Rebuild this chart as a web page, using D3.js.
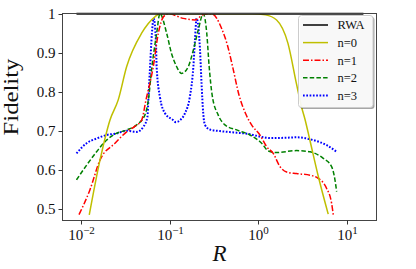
<!DOCTYPE html>
<html>
<head>
<meta charset="utf-8">
<script src="https://cdn.jsdelivr.net/npm/d3@7"></script>
<style>
  body { margin: 0; background: #fff; }
  svg { display: block; }
</style>
</head>
<body>
<div id="chart"></div>
<script>

// values (R on a log axis, fidelity on y)
var rwaR = [0.0089, 15.3];
var rwaF = [1, 1];

var n0R = [0.0124, 0.0164, 0.0212, 0.0263, 0.0327, 0.0483, 0.0682, 0.0776, 0.3, 0.85, 1.2, 1.607, 2.158, 2.692, 3.076, 3.35, 3.819, 4.732, 6.138];
var n0F = [0.484, 0.625, 0.727, 0.779, 0.864, 0.95, 0.992, 1.0, 1.0, 1.0, 0.997, 0.984, 0.924, 0.82, 0.76, 0.73, 0.675, 0.584, 0.486];

var n1R = [0.0095, 0.0126, 0.0164, 0.0242, 0.0327, 0.0398, 0.0483, 0.0541, 0.0653, 0.0745, 0.0851, 0.0966, 0.142, 0.193, 0.24, 0.297, 0.389, 0.447, 0.513, 0.603, 0.724, 0.839, 1.042, 1.242, 1.472, 1.754, 2.084, 2.692, 3.819, 4.732, 5.888, 6.699, 6.998];
var n1F = [0.485, 0.548, 0.625, 0.668, 0.697, 0.71, 0.727, 0.779, 0.864, 0.95, 0.992, 1.0, 0.988, 0.984, 0.998, 1.0, 0.96, 0.92, 0.864, 0.793, 0.742, 0.715, 0.689, 0.659, 0.642, 0.608, 0.594, 0.59, 0.586, 0.578, 0.552, 0.514, 0.484];

var n2R = [0.0089, 0.0116, 0.015, 0.0195, 0.0251, 0.0327, 0.0425, 0.0525, 0.0575, 0.0631, 0.0714, 0.0776, 0.0925, 0.105, 0.12, 0.136, 0.162, 0.185, 0.21, 0.239, 0.262, 0.279, 0.302, 0.353, 0.42, 0.569, 0.804, 1.089, 1.3, 1.607, 2.692, 3.819, 5.395, 6.699, 7.311, 7.638];
var n2F = [0.574, 0.612, 0.646, 0.676, 0.693, 0.702, 0.715, 0.74, 0.779, 0.864, 0.95, 1.0, 0.95, 0.898, 0.864, 0.847, 0.864, 0.907, 0.958, 1.0, 0.95, 0.864, 0.79, 0.74, 0.715, 0.702, 0.689, 0.668, 0.648, 0.644, 0.649, 0.646, 0.629, 0.608, 0.574, 0.544];

var n3R = [0.0089, 0.0116, 0.015, 0.0195, 0.0251, 0.0327, 0.0425, 0.0505, 0.0562, 0.0575, 0.06, 0.0631, 0.066, 0.07, 0.0713, 0.0776, 0.0885, 0.11, 0.117, 0.131, 0.149, 0.169, 0.185, 0.193, 0.201, 0.22, 0.229, 0.239, 0.25, 0.284, 0.369, 0.569, 0.804, 1.042, 1.352, 2.084, 2.692, 4.159, 5.888, 7.638];
var n3F = [0.642, 0.668, 0.68, 0.689, 0.693, 0.7, 0.697, 0.71, 0.736, 0.779, 0.86, 0.95, 0.988, 0.93, 0.864, 0.787, 0.745, 0.727, 0.722, 0.727, 0.745, 0.787, 0.864, 0.933, 0.988, 0.907, 0.82, 0.745, 0.715, 0.703, 0.699, 0.695, 0.691, 0.685, 0.681, 0.682, 0.683, 0.676, 0.663, 0.646];

var xTicks = [0.01, 0.1, 1, 10];
var xTickExp = ["\u22122", "\u22121", "0", "1"];
var yTicks = [0.5, 0.6, 0.7, 0.8, 0.9, 1.0];
var yTickLabels = ["0.5", "0.6", "0.7", "0.8", "0.9", "1"];

var seriesNames = ["RWA", "n=0", "n=1", "n=2", "n=3"];
var seriesColors = ["#111111", "#bfbf00", "#ff0000", "#008000", "#0000ff"];
var seriesDash = [null, null, "6,2,1.5,2", "4.5,2.2", "1.7,1.6"];
var seriesWidth = [2, 1.5, 1.5, 1.5, 2];

var W = 416, H = 269;
var pLeft = 62, pRight = 377, pTop = 13, pBottom = 221;

var svg = d3.select("#chart").append("svg")
    .attr("width", W)
    .attr("height", H);

var x = d3.scaleLog()
    .domain([Math.pow(10, -2.214), Math.pow(10, 1.338)])
    .range([pLeft, pRight]);

var y = d3.scaleLinear()
    .domain([0.4685, 1.0018])
    .range([pBottom, pTop]);

svg.append("clipPath").attr("id", "plotclip")
  .append("rect")
    .attr("x", pLeft).attr("y", pTop - 2)
    .attr("width", pRight - pLeft).attr("height", pBottom - pTop + 2);

function toPoints(rs, fs) {
  return rs.map(function(r, i) { return [r, fs[i]]; });
}

var allSeries = [
  toPoints(rwaR, rwaF),
  toPoints(n0R, n0F),
  toPoints(n1R, n1F),
  toPoints(n2R, n2F),
  toPoints(n3R, n3F)
];

var line = d3.line()
    .x(function(d) { return x(d[0]); })
    .y(function(d) { return y(d[1]); })
    .curve(d3.curveMonotoneX);

// lines, drawn n=3 first so RWA ends on top
var gLines = svg.append("g").attr("clip-path", "url(#plotclip)");
[4, 3, 2, 1, 0].forEach(function(i) {
  gLines.append("path")
      .attr("d", line(allSeries[i]))
      .attr("fill", "none")
      .attr("stroke", seriesColors[i])
      .attr("stroke-width", seriesWidth[i])
      .attr("stroke-dasharray", seriesDash[i]);
});

// frame
svg.append("rect")
    .attr("x", pLeft + 0.5).attr("y", pTop + 0.5)
    .attr("width", pRight - pLeft - 1).attr("height", pBottom - pTop - 1)
    .attr("fill", "none")
    .attr("stroke", "#444")
    .attr("stroke-width", 1);

var font = "'Liberation Serif', 'Times New Roman', serif";

// x axis
var xAxis = svg.append("g").attr("transform", "translate(0," + (pBottom - 0.5) + ")");
xTicks.forEach(function(t, i) {
  var px = Math.round(x(t)) + 0.5;
  xAxis.append("line")
      .attr("x1", px).attr("x2", px)
      .attr("y1", 0).attr("y2", 4)
      .attr("stroke", "#333");
  var lab = xAxis.append("text")
      .attr("x", px)
      .attr("y", 19.5)
      .attr("text-anchor", "middle")
      .attr("font-family", font)
      .attr("font-size", 15)
      .attr("fill", "#111");
  lab.append("tspan").text("10");
  lab.append("tspan")
      .attr("dy", -6.5)
      .attr("font-size", 11)
      .text(xTickExp[i]);
});

// y axis
var yAxis = svg.append("g").attr("transform", "translate(" + (pLeft + 0.5) + ",0)");
yTicks.forEach(function(t, i) {
  var py = Math.round(y(t)) + 0.5;
  yAxis.append("line")
      .attr("x1", -4).attr("x2", 0)
      .attr("y1", py).attr("y2", py)
      .attr("stroke", "#333");
  yAxis.append("text")
      .attr("x", -7)
      .attr("y", py)
      .attr("dy", "0.33em")
      .attr("text-anchor", "end")
      .attr("font-family", font)
      .attr("font-size", 15)
      .attr("fill", "#111")
      .text(yTickLabels[i]);
});

// axis titles
svg.append("text")
    .attr("transform", "translate(17.5,97) rotate(-90)")
    .attr("text-anchor", "middle")
    .attr("font-family", font)
    .attr("font-size", 20.5)
    .attr("textLength", 77)
    .attr("lengthAdjust", "spacingAndGlyphs")
    .attr("fill", "#111")
    .text("Fidelity");

svg.append("text")
    .attr("x", (pLeft + pRight) / 2)
    .attr("y", 261)
    .attr("text-anchor", "middle")
    .attr("font-family", font)
    .attr("font-style", "italic")
    .attr("font-size", 23)
    .attr("fill", "#111")
    .text("R");

// legend
var lgX = 298, lgY = 15, lgW = 74.5, lgH = 92;
var legend = svg.append("g");
legend.append("rect")
    .attr("x", lgX + 2).attr("y", lgY + 2)
    .attr("width", lgW).attr("height", lgH)
    .attr("rx", 3)
    .attr("fill", "#000").attr("fill-opacity", 0.35);
legend.append("rect")
    .attr("x", lgX + 0.5).attr("y", lgY + 0.5)
    .attr("width", lgW).attr("height", lgH)
    .attr("rx", 3)
    .attr("fill", "#fff").attr("fill-opacity", 0.92)
    .attr("stroke", "#cccccc");

seriesNames.forEach(function(name, i) {
  var yy = 25 + i * 17.6;
  legend.append("line")
      .attr("x1", 303).attr("x2", 328)
      .attr("y1", yy).attr("y2", yy)
      .attr("stroke", seriesColors[i])
      .attr("stroke-width", i == 0 ? 1.6 : seriesWidth[i])
      .attr("stroke-dasharray", seriesDash[i]);
  legend.append("text")
      .attr("x", 337.5)
      .attr("y", yy)
      .attr("dy", "0.35em")
      .attr("font-family", font)
      .attr("font-size", 12.5)
      .attr("fill", "#111")
      .text(name);
});

</script>
</body>
</html>
